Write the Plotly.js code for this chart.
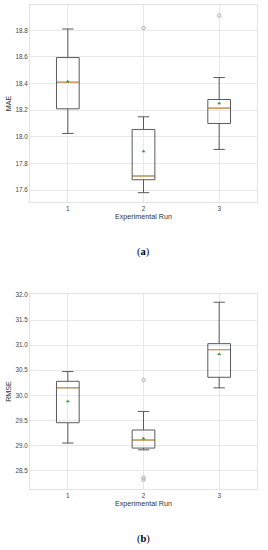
<!DOCTYPE html>
<html><head><meta charset="utf-8">
<script src="https://cdn.plot.ly/plotly-3.0.1.min.js"></script>
<style>body{margin:0;background:#fff}#c{width:268px;height:550px}</style>
</head><body><div id="c"></div>
<script>
const runs = [1, 2, 3];
// MAE
const maeQ1 = [18.21, 17.677, 18.10];
const maeMedian = [18.41, 17.705, 18.215];
const maeQ3 = [18.595, 18.055, 18.28];
const maeLow = [18.025, 17.58, 17.905];
const maeHigh = [18.81, 18.15, 18.445];
const maeMean = [18.415, 17.89, 18.25];
const maeOutX = [2, 3];
const maeOutY = [18.817, 18.91];
// RMSE
const rmseQ1 = [29.455, 28.95, 30.36];
const rmseMedian = [30.15, 29.11, 30.91];
const rmseQ3 = [30.28, 29.31, 31.03];
const rmseLow = [29.05, 28.915, 30.15];
const rmseHigh = [30.474, 29.68, 31.855];
const rmseMean = [29.88, 29.14, 30.82];
const rmseOutX = [2, 2, 2];
const rmseOutY = [30.31, 28.36, 28.32];

const BW = 0.3;
const boxLine = '#5a5a5a';
const traces = [];
function addSet(q1, med, q3, lo, hi, mean, ox, oy, xa, ya) {
  traces.push({type:'box', x:runs, q1:q1, median:med, q3:q3, lowerfence:lo, upperfence:hi,
    width:BW, whiskerwidth:0.5, line:{color:boxLine, width:1}, fillcolor:'rgba(0,0,0,0)',
    xaxis:xa, yaxis:ya, showlegend:false, hoverinfo:'skip'});
  const mx = [], my = [];
  runs.forEach((r,i)=>{ mx.push(r-BW/2+0.01, r+BW/2-0.01, null); my.push(med[i], med[i], null); });
  traces.push({type:'scatter', mode:'lines', x:mx, y:my, line:{color:'#f7a451', width:1},
    xaxis:xa, yaxis:ya, showlegend:false, hoverinfo:'skip'});
  traces.push({type:'scatter', mode:'markers', x:runs, y:mean,
    marker:{symbol:'triangle-up', size:3.5, color:'#2ca02c'},
    xaxis:xa, yaxis:ya, showlegend:false, hoverinfo:'skip'});
  traces.push({type:'scatter', mode:'markers', x:ox, y:oy,
    marker:{symbol:'circle-open', size:3.5, color:'#a0a0a0', line:{width:0.8}},
    xaxis:xa, yaxis:ya, showlegend:false, hoverinfo:'skip'});
}
addSet(maeQ1, maeMedian, maeQ3, maeLow, maeHigh, maeMean, maeOutX, maeOutY, 'x', 'y');
addSet(rmseQ1, rmseMedian, rmseQ3, rmseLow, rmseHigh, rmseMean, rmseOutX, rmseOutY, 'x2', 'y2');

const tickFont = {family:'Liberation Sans, Arial, sans-serif', size:6.3, color:'#444'};
const titleFont = {family:'Liberation Sans, Arial, sans-serif', size:7.2, color:'#333'};
const axBase = {showgrid:true, gridcolor:'#e8e8e8', gridwidth:1, zeroline:false,
  showline:true, mirror:true, linecolor:'#e3e3e3', linewidth:1, ticks:'', tickfont:tickFont};
const xBase = Object.assign({}, axBase, {range:[0.5,3.5], tickvals:runs, ticktext:runs.map(String),
  title:{text:'Experimental Run', font:titleFont, standoff:1}});

const layout = {
  width:268, height:550, margin:{l:30, r:11, t:5, b:61},
  paper_bgcolor:'#fff', plot_bgcolor:'#fff', showlegend:false,
  xaxis: Object.assign({}, xBase, {anchor:'y'}),
  yaxis: Object.assign({}, axBase, {domain:[0.593,1], range:[17.51,18.99], tickvals:[17.6,17.8,18.0,18.2,18.4,18.6,18.8],
    ticktext:['17.6','17.8','18.0','18.2','18.4','18.6','18.8'], title:{text:'MAE', font:titleFont, standoff:2}, anchor:'x'}),
  xaxis2: Object.assign({}, xBase, {anchor:'y2'}),
  yaxis2: Object.assign({}, axBase, {domain:[0,0.403], range:[28.135,32.02], tickvals:[28.5,29.0,29.5,30.0,30.5,31.0,31.5,32.0],
    ticktext:['28.5','29.0','29.5','30.0','30.5','31.0','31.5','32.0'], title:{text:'RMSE', font:titleFont, standoff:2}, anchor:'x2'}),
  annotations:[
    {text:'(<b>a</b>)', xref:'paper', yref:'paper', x:0.5, y:(550-61-252)/484, xanchor:'center', yanchor:'middle', showarrow:false,
     font:{family:'Liberation Serif, Times New Roman, serif', size:10.5, color:'#000'}},
    {text:'(<b>b</b>)', xref:'paper', yref:'paper', x:0.5, y:(550-61-539)/484, xanchor:'center', yanchor:'middle', showarrow:false,
     font:{family:'Liberation Serif, Times New Roman, serif', size:10.5, color:'#000'}}
  ]
};
Plotly.newPlot('c', traces, layout, {staticPlot:true, displayModeBar:false});
</script></body></html>
